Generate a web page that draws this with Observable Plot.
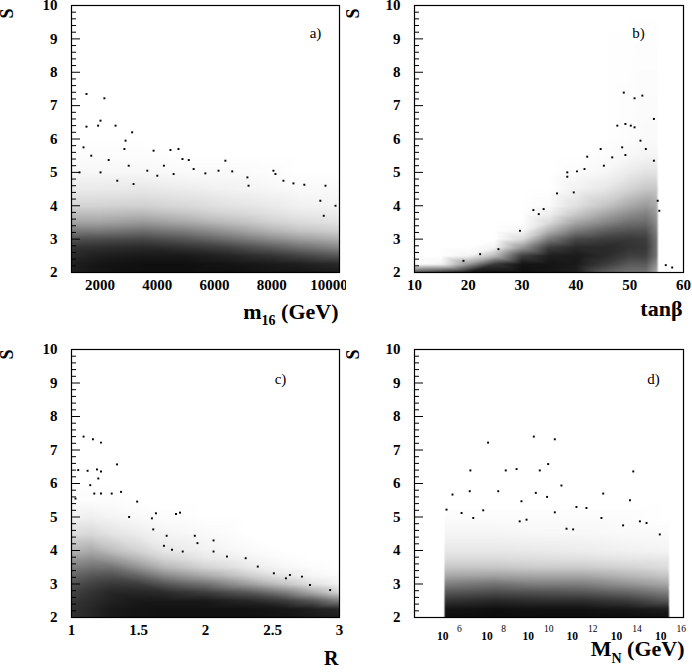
<!DOCTYPE html>
<html><head><meta charset="utf-8">
<script src="https://cdn.jsdelivr.net/npm/d3@7"></script>
<script src="https://cdn.jsdelivr.net/npm/@observablehq/plot@0.6"></script>
<style>
body{margin:0;background:#fff;}
#wrap{position:relative;width:692px;height:672px;background:#fff;}
.cell{position:absolute;width:346px;height:336px;overflow:hidden;}
</style></head><body><div id="wrap"></div>
<script>
// ---------- shared ----------
const yLevels = [2, 2.25, 2.5, 2.75, 3, 3.25, 3.5, 3.75, 4, 4.5, 5, 5.5, 6, 10];
const yMajorTicks = [2, 3, 4, 5, 6, 7, 8, 9, 10];

// ---------- panel a : m16 ----------
const aTicks = [2000, 4000, 6000, 8000, 10000];
const aGridX = [1000, 2000, 3500, 5000, 6500, 8000, 9000, 10370];
const aDensity = [
  [.88,.88,.84,.80,.68,.52,.36,.26,.17,.08,.03,.01,0,0],
  [.92,.92,.88,.82,.70,.52,.36,.26,.17,.08,.03,.01,0,0],
  [.94,.94,.90,.84,.72,.56,.40,.28,.18,.09,.03,.01,0,0],
  [.94,.94,.90,.80,.66,.50,.34,.23,.15,.07,.02,0,0,0],
  [.94,.92,.86,.74,.56,.40,.26,.17,.11,.05,.02,0,0,0],
  [.92,.90,.80,.64,.45,.29,.18,.12,.08,.03,.01,0,0,0],
  [.92,.88,.74,.56,.38,.23,.14,.09,.05,.02,0,0,0,0],
  [.90,.84,.66,.47,.31,.18,.11,.07,.04,.02,0,0,0,0]
];
const aPtsX = [1524,2150,2014,1930,1524,2540,3120,2890,2850,1420,1690,2300,3870,4460,4740,5100,6380,3000,3650,4230,5270,5680,6140,6620,8060,8130,8410,8760,9140,9880,7150,7190,1280,2600,3170,4000,4570,4880,2015,9700,10230,9820];
const aPtsY = [7.35,7.22,6.55,6.40,6.37,6.40,6.20,5.95,5.70,5.75,5.50,5.37,5.65,5.67,5.70,5.37,5.35,5.20,5.05,5.20,5.10,4.97,5.05,5.03,5.05,4.95,4.75,4.67,4.63,4.60,4.85,4.60,5.00,4.75,4.65,4.90,4.95,5.40,5.00,4.15,4.00,3.70];

// ---------- panel b : tan beta ----------
const bTicks = [10, 20, 30, 40, 50, 60];
const bGridX = [10, 15, 20, 25, 30, 35, 40, 45, 50, 53, 55, 55.4, 60];
const bDensity = [
  [.70,0,0,0,0,0,0,0,0,0,0,0,0,0],
  [.80,.04,0,0,0,0,0,0,0,0,0,0,0,0],
  [.92,.40,.04,0,0,0,0,0,0,0,0,0,0,0],
  [.94,.78,.28,.05,0,0,0,0,0,0,0,0,0,0],
  [.94,.92,.75,.40,.14,.03,0,0,0,0,0,0,0,0],
  [.92,.92,.88,.76,.52,.30,.14,.06,.02,0,0,0,0,0],
  [.88,.90,.90,.84,.72,.52,.35,.21,.12,.05,.01,0,0,0],
  [.65,.78,.84,.84,.76,.62,.46,.34,.22,.09,.03,.01,0,0],
  [.55,.65,.75,.80,.78,.68,.56,.45,.34,.17,.08,.03,.01,0],
  [.55,.65,.75,.78,.76,.68,.58,.50,.40,.22,.11,.04,.02,0],
  [.35,.45,.55,.56,.55,.50,.45,.40,.34,.22,.11,.04,.02,0],
  [0,0,0,0,0,0,0,0,0,0,0,0,0,0],
  [0,0,0,0,0,0,0,0,0,0,0,0,0,0]
];
const bPtsX = [48.9,50.9,52.35,54.5,47.7,49.2,50.2,50.9,52.0,53.0,48.6,44.6,42.1,49.2,46.75,54.5,38.4,40.2,41.6,45.2,38.4,36.5,39.6,34.0,32.1,29.6,33.1,25.6,22.2,19.1,55.5,55.2,56.7,57.9];
const bPtsY = [7.39,7.22,7.30,6.60,6.40,6.45,6.40,6.35,5.95,5.70,5.75,5.70,5.47,5.52,5.45,5.35,5.00,5.03,5.10,5.20,4.87,4.37,4.40,3.90,3.87,3.25,3.75,2.70,2.55,2.35,3.85,4.15,2.22,2.15];

// ---------- panel c : R ----------
const cTicks = [1, 1.5, 2, 2.5, 3];
const cGridX = [1, 1.15, 1.3, 1.5, 1.7, 2.0, 2.3, 2.6, 2.8, 3.0];
const cDensity = [
  [.80,.80,.78,.74,.68,.60,.50,.40,.28,.13,.05,.01,0,0],
  [.85,.85,.83,.80,.74,.66,.55,.44,.33,.15,.06,.01,0,0],
  [.90,.90,.87,.85,.78,.68,.55,.39,.25,.11,.04,.01,0,0],
  [.92,.92,.90,.85,.76,.60,.42,.28,.17,.07,.02,0,0,0],
  [.93,.93,.90,.83,.66,.46,.28,.17,.09,.04,.01,0,0,0],
  [.93,.93,.90,.76,.55,.33,.17,.09,.05,.02,0,0,0,0],
  [.93,.93,.85,.66,.39,.20,.09,.05,.02,0,0,0,0,0],
  [.92,.91,.76,.50,.22,.09,.03,.01,0,0,0,0,0,0],
  [.90,.88,.66,.33,.11,.03,.01,0,0,0,0,0,0,0],
  [.88,.84,.50,.16,.04,.01,0,0,0,0,0,0,0,0]
];
const cPtsX = [1.09,1.16,1.22,1.05,1.12,1.19,1.22,1.34,1.20,1.14,1.17,1.22,1.30,1.37,1.03,1.49,1.63,1.78,1.81,1.60,1.43,1.61,1.71,1.92,1.94,2.06,2.06,1.69,2.30,2.16,2.39,2.51,2.60,2.63,2.72,2.78,2.93,1.75,1.83];
const cPtsY = [7.40,7.32,7.22,6.40,6.38,6.42,6.36,6.57,6.15,5.95,5.70,5.70,5.70,5.75,5.55,5.46,5.11,5.09,5.13,4.96,5.00,4.63,4.44,4.44,4.22,4.30,3.97,4.14,3.77,3.82,3.52,3.32,3.17,3.27,3.22,2.97,2.82,4.02,3.97];

// ---------- panel d : log10 M_N ----------
const dExps1 = [6, 8];
const dExps2 = [10, 12, 14, 16];
const dGridX = [4.371, 5.70, 5.76, 8, 10, 12, 14, 15.86, 15.92, 16.543];
const dDensity = [
  [0,0,0,0,0,0,0,0,0,0,0,0,0,0],
  [0,0,0,0,0,0,0,0,0,0,0,0,0,0],
  [.94,.92,.80,.66,.50,.34,.22,.14,.09,.04,.01,0,0,0],
  [.95,.94,.84,.70,.55,.36,.22,.14,.09,.04,.01,0,0,0],
  [.95,.93,.82,.68,.50,.34,.20,.13,.08,.03,.01,0,0,0],
  [.95,.93,.82,.66,.50,.34,.20,.12,.07,.03,.01,0,0,0],
  [.95,.91,.77,.60,.42,.28,.17,.10,.05,.02,.01,0,0,0],
  [.94,.88,.66,.50,.34,.22,.13,.09,.04,.02,0,0,0,0],
  [0,0,0,0,0,0,0,0,0,0,0,0,0,0],
  [0,0,0,0,0,0,0,0,0,0,0,0,0,0]
];
const dPtsX = [9.77,10.72,7.70,6.90,8.50,8.99,10.04,10.42,14.27,11.02,6.87,8.16,9.86,12.91,6.09,14.12,10.37,9.21,11.70,12.15,10.72,5.82,6.50,7.03,7.48,9.13,9.44,14.57,14.87,13.81,12.83,15.47,11.25,11.55];
const dPtsY = [7.40,7.32,7.22,6.39,6.39,6.43,6.39,6.58,6.36,5.94,5.77,5.77,5.72,5.70,5.67,5.50,5.60,5.47,5.30,5.27,5.14,5.22,5.12,4.97,5.20,4.87,4.92,4.87,4.82,4.75,4.97,4.48,4.65,4.63];

// ---------- drawing ----------
const SERIF = "'Liberation Serif','DejaVu Serif',serif";
const NS = "http://www.w3.org/2000/svg";

function gridCells(xs, grid) {
  const out = [];
  xs.forEach((x, i) => yLevels.forEach((y, j) => out.push({x, y, d: grid[i][j]})));
  return out;
}
function gridRects(xs, grid) {
  const out = [];
  for (let i = 0; i < xs.length - 1; i++)
    for (let j = 0; j < yLevels.length - 1; j++)
      out.push({x1: xs[i], x2: xs[i+1], y1: yLevels[j], y2: yLevels[j+1],
        d: (grid[i][j] + grid[i+1][j] + grid[i][j+1] + grid[i+1][j+1]) / 4});
  return out;
}

function panel(o) {
  const W = 346, H = 336;
  const innerW = W - o.mL - o.mR;
  const pts = o.ptsX.map((x, i) => ({x, y: o.ptsY[i]}));
  const minor = d3.range(2, 10.0001, 0.2).filter(v => Math.abs(v - Math.round(v)) > 1e-6);
  const density = Plot.raster
    ? Plot.raster(gridCells(o.gridX, o.grid), {x: "x", y: "y", fill: "d", interpolate: "barycentric",
        x1: o.xDomain[0], x2: o.xDomain[1], y1: 2, y2: 10})
    : Plot.rect(gridRects(o.gridX, o.grid), {x1: "x1", x2: "x2", y1: "y1", y2: "y2", fill: "d"});
  const marks = [
    density,
    Plot.dot(pts, {x: "x", y: "y", r: 1.1, symbol: "square", fill: "black", stroke: "none"}),
    Plot.tickY(minor, {y: d => d, insetRight: innerW - 5, stroke: "black", strokeWidth: 1}),
    Plot.tickY(yMajorTicks, {y: d => d, insetRight: innerW - 9, stroke: "black", strokeWidth: 1}),
    Plot.frame({stroke: "black", strokeWidth: 1.2}),
    Plot.axisY(yMajorTicks, {tickSize: 0, tickPadding: 14, label: null, fontSize: 15, fontWeight: "bold", fontFamily: SERIF}),
    Plot.text(["S"], {frameAnchor: "top-left", dx: o.sDx, dy: o.sDy, rotate: -90, fontSize: 18, fontWeight: "bold", fontFamily: SERIF, textAnchor: "middle", lineAnchor: "middle"}),
    Plot.text([o.tag], {frameAnchor: "top-right", dx: o.tagDx, dy: o.tagDy, fontSize: 15, fontFamily: SERIF, textAnchor: "middle", lineAnchor: "middle"}),
    Plot.text([o.title], {frameAnchor: "bottom-right", dx: o.tDx, dy: o.tDy, textAnchor: "end", lineAnchor: "bottom", fontSize: o.tSize || 22, fontWeight: "bold", fontFamily: SERIF})
  ];
  if (o.xTicks) {
    marks.push(Plot.axisX(o.xTicks, {tickSize: 0, tickPadding: 7, label: null, fontSize: 15, fontWeight: "bold", fontFamily: SERIF, tickFormat: d => String(d)}));
  } else {
    // logarithmic labels 10^n
    const base = {frameAnchor: "bottom", textAnchor: "end", lineAnchor: "middle", fontSize: 11.5, fontWeight: "bold", fontFamily: SERIF, dy: 19};
    const sup = {frameAnchor: "bottom", textAnchor: "start", lineAnchor: "middle", fontSize: 9.5, fontFamily: SERIF, dy: 11};
    marks.push(
      Plot.text(dExps1, {...base, x: d => d, text: () => "10", dx: -2}),
      Plot.text(dExps2, {...base, x: d => d, text: () => "10", dx: -5}),
      Plot.text(dExps1, {...sup, x: d => d, text: d => String(d), dx: 6.5}),
      Plot.text(dExps2, {...sup, x: d => d, text: d => String(d), dx: 5})
    );
  }
  const svg = Plot.plot({
    width: W, height: H,
    marginLeft: o.mL, marginRight: o.mR, marginTop: o.mT, marginBottom: o.mB,
    x: {domain: o.xDomain, axis: null},
    y: {domain: [2, 10], axis: null},
    color: {type: "linear", domain: [0, 1], range: ["#ffffff", "#000000"]},
    style: {background: "white", fontFamily: SERIF, overflow: "hidden"},
    marks
  });
  // subscripts in axis title
  if (o.sub) {
    const t = Array.from(svg.querySelectorAll("text")).find(e => e.textContent === o.title);
    if (t) {
      while (t.firstChild) t.removeChild(t.firstChild);
      const parts = [[o.sub[0], null, 0], [o.sub[1], o.sub[3], o.sub[4]], [o.sub[2], null, -o.sub[4]]];
      for (const [txt, size, dy] of parts) {
        const ts = document.createElementNS(NS, "tspan");
        ts.textContent = txt;
        if (size) ts.setAttribute("font-size", size);
        if (dy) ts.setAttribute("dy", dy);
        t.appendChild(ts);
      }
    }
  }
  const div = document.createElement("div");
  div.className = "cell";
  div.style.left = o.left + "px";
  div.style.top = o.top + "px";
  div.appendChild(svg);
  document.getElementById("wrap").appendChild(div);
}

panel({left: 0, top: 0, mL: 71, mR: 7, mT: 5, mB: 64, xDomain: [1000, 10370], xTicks: aTicks,
  gridX: aGridX, grid: aDensity, ptsX: aPtsX, ptsY: aPtsY,
  sDx: -64, sDy: 8, tag: "a)", tagDx: -24, tagDy: 28,
  title: "m16 (GeV)", sub: ["m", "16", " (GeV)", 14, 6], tDx: -1, tDy: 46});

panel({left: 346, top: 0, mL: 68, mR: 9, mT: 5, mB: 64, xDomain: [10, 60], xTicks: bTicks,
  gridX: bGridX, grid: bDensity, ptsX: bPtsX, ptsY: bPtsY,
  sDx: -61, sDy: 8, tag: "b)", tagDx: -45, tagDy: 28,
  title: "tanβ", tDx: -1, tDy: 43});

panel({left: 0, top: 336, mL: 71, mR: 7, mT: 13, mB: 55, xDomain: [1, 3], xTicks: cTicks,
  gridX: cGridX, grid: cDensity, ptsX: cPtsX, ptsY: cPtsY,
  sDx: -64, sDy: 5, tag: "c)", tagDx: -59, tagDy: 30,
  title: "R", tSize: 20, tDx: -1, tDy: 47});

panel({left: 346, top: 336, mL: 68, mR: 9, mT: 13, mB: 55, xDomain: [4.371, 16.543], xTicks: null,
  gridX: dGridX, grid: dDensity, ptsX: dPtsX, ptsY: dPtsY,
  sDx: -61, sDy: 5, tag: "d)", tagDx: -30, tagDy: 30,
  title: "MN (GeV)", sub: ["M", "N", " (GeV)", 14, 7], tDx: 1, tDy: 38});
</script>
</body></html>
